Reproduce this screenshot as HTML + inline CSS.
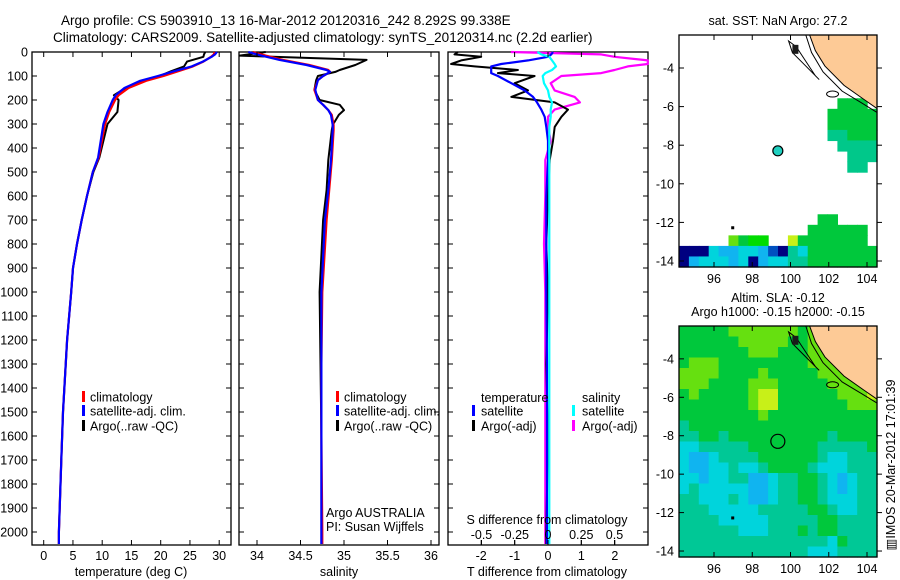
<!DOCTYPE html>
<html><head><meta charset="utf-8"><style>
html,body{margin:0;padding:0;background:#fff;}
svg{display:block;font-family:"Liberation Sans",sans-serif;}
text{font-size:12.5px;fill:#000;}
</style></head><body>
<svg id="fig" width="900" height="580" viewBox="0 0 900 580">
<text x="61" y="25" style="font-size:13.5px">Argo profile: CS 5903910_13 16-Mar-2012 20120316_242 8.292S 99.338E</text>
<text x="53" y="42" style="font-size:13.5px">Climatology: CARS2009. Satellite-adjusted climatology: synTS_20120314.nc (2.2d earlier)</text>
<g id="g"></g>
</svg>
<script>
// ---- profile data (depth in m) ----
const tDepth=[0,10,20,40,60,80,100,120,150,180,200,250,300,440,500,600,700,800,900,1000,1200,1500,1700,2000,2050];
const tClim=[29.2,29.1,28.6,27.3,25.5,23,20.5,17.5,14.5,12.8,12.2,11.2,10.5,9.4,8.4,7.4,6.5,5.7,5.0,4.7,4.0,3.3,3.0,2.6,2.6];
const tSat=[29.6,29.3,28.7,27.2,25.3,22.3,19.5,16.5,13.8,12.3,11.8,10.9,10.2,9.3,8.4,7.4,6.5,5.7,5.0,4.7,4.0,3.3,3.0,2.6,2.6];
const tArgo=[27.6,27.4,27.3,24.5,24.0,21.8,19.8,16.8,14.0,12.0,12.8,12.6,10.9,9.5,8.5,7.4,6.5,5.7,5.0,4.7,4.0,3.3,3.0,2.6,2.6];
const sDepth=[0,15,33,54,75,83,100,117,158,200,220,242,262,304,325,450,575,700,1000,1300,1600,2000,2050];
const sClim=[33.95,34.1,34.3,34.6,34.82,34.84,34.76,34.7,34.66,34.7,34.76,34.82,34.86,34.88,34.88,34.86,34.83,34.8,34.75,34.74,34.74,34.75,34.75];
const sSat=[33.9,34.05,34.26,34.57,34.8,34.84,34.76,34.7,34.67,34.7,34.76,34.82,34.85,34.87,34.87,34.85,34.82,34.78,34.74,34.74,34.74,34.74,34.74];
const sArgo=[34.1,33.8,35.26,35.13,34.95,34.9,34.7,34.68,34.66,34.72,34.95,35.0,34.94,34.87,34.86,34.82,34.8,34.76,34.72,34.73,34.74,34.74,34.74];
const dDepth=[0,10,20,35,50,60,75,88,100,130,160,187,210,240,270,312,370,450,600,800,1000,1300,1600,2000,2050];
const dTsat=[0.15,0.1,0,-0.6,-1.4,-1.7,-1.7,-1.7,-1.5,-1.1,-0.7,-0.45,-0.33,-0.2,-0.1,-0.05,0,0,-0.05,-0.05,-0.05,-0.03,-0.03,-0.03,-0.03];
const dTargo=[-2.7,-2.8,-2.0,-2.6,-2.9,-2.2,-0.9,-1.5,-0.4,-1.0,-0.6,-1.1,0.2,0.6,0.4,0.2,0.15,0.05,0,-0.05,0,-0.05,0,-0.05,-0.05];
const dSsat=[-0.08,-0.05,0.01,0.03,0.05,0.06,0.03,-0.02,-0.04,-0.03,0,0.01,0.03,0.02,0.02,0.01,0.01,0.01,0.01,0.01,0.01,0.01,0.01,0.01,0.01];
const dSargo=[-0.28,0.4,0.5,0.75,0.75,0.6,0.5,0.4,0.1,0.02,0.05,0.2,0.24,0.05,0.0,0.0,0.02,-0.02,-0.02,-0.03,-0.02,-0.02,-0.02,-0.02,-0.02];
const depthTicks=[0,100,200,300,400,500,600,700,800,900,1000,1100,1200,1300,1400,1500,1600,1700,1800,1900,2000];
const tTicks=[0,5,10,15,20,25,30];
const sTicks=[34,34.5,35,35.5,36];
const dTTicks=[-2,-1,0,1,2];
const dSTicks=[-0.5,-0.25,0,0.25,0.5];
const lonTicks=[96,98,100,102,104];
const latTicks=[-4,-6,-8,-10,-12,-14];
// SST grid (rows top->bottom, 20 cols), '.' = no data
const sstRows=["....................","....................","....................","....................","....................","....................",
"................GGG.","...............GGGGG","...............GGGGG","...............TTGGG","................TTTT",".................TTT",".................TT.",
"....................","....................","....................","....................","..............GG....",".............GGGGGG..",
".....gGLL..yGGGGGGG.","NNNcbbccbnNtcGGGGGGG","NbcccbcNbccttGGGGGGG"];
// SLA grid
const slaRows=["GGGGGgggggggGggyyyyy","GGGGGGgggggGGggyyyyy","GGGGGGGgggGGGgggyyyy","GgggGGGGGGGGGggggyyy","ggggGGGGgGGGGGgggyyy","gggGGGGgggGGGGGggggy",
"GgGGGGGgyyGGGGGGgggy","GGGGGGGgyyGGGGGGGggg","GGGGGGGGgGGGGGGGGGGG","tGGGGGGGGGGGGGGGGGGG","ttGGtGGGGGGGGGGtGGGG","cctttttGGGGGGGtttttG",
"cbbcttttGGGGGGtccttt","cbbcctcctGGGGtccctt","ccbccttbbcttGGtcbctt","ctcccccbbcttGGtcbctt","ttccctcbbcttGGtccctt","tttccccctttttGGtcctt",
"ttttccccctttttGGtttt","ttttttccctttGtGGtttt","tttttttttttttttcGttt","tttttttttttttccctttt"];
const argoLon=99.338, argoLat=-8.292;

const NS="http://www.w3.org/2000/svg";
const G=document.getElementById('g');
function el(tag,attrs,parent){const e=document.createElementNS(NS,tag);for(const k in attrs)e.setAttribute(k,attrs[k]);(parent||G).appendChild(e);return e;}
function txt(x,y,s,anchor,parent,size){const t=el('text',{x:x,y:y,'text-anchor':anchor||'start'},parent);if(size)t.style.fontSize=size+'px';t.textContent=s;return t;}
const yD=d=>52+d*0.24;
const PB=545;
function panel(x0,x1,name){const g=el('g',{});
 el('rect',{x:x0,y:52,width:x1-x0,height:PB-52,fill:'none',stroke:'#000','stroke-width':1.3},g);return g;}
const panels=[[32,231,'temperature-panel'],[239,439,'salinity-panel'],[448,648,'difference-panel']];
const pg=panels.map(p=>panel(p[0],p[1],p[2]));
depthTicks.forEach(d=>{const y=yD(d);
 panels.forEach(p=>{el('line',{x1:p[0],x2:p[0]+5,y1:y,y2:y,stroke:'#000'});el('line',{x1:p[1]-5,x2:p[1],y1:y,y2:y,stroke:'#000'});});
 const t=txt(28,y+4.5,String(d),'end',null,12.5);});
function xTicks(vals,fx,labY){vals.forEach(v=>{const x=fx(v);
 el('line',{x1:x,x2:x,y1:PB-5,y2:PB,stroke:'#000'});el('line',{x1:x,x2:x,y1:52,y2:57,stroke:'#000'});
 const t=txt(x,labY,String(v),'middle');});}
const xT=v=>43.7+v*5.85, xS=v=>257+(v-34)*87, xdT=v=>548+v*33.4, xdS=v=>548+v*133;
xTicks(tTicks,xT,560);xTicks(sTicks,xS,560);xTicks(dTTicks,xdT,560);
dSTicks.forEach(v=>{const x=xdS(v);el('line',{x1:x,x2:x,y1:PB-5,y2:PB,stroke:'#000'});const t=txt(x,539,String(v),'middle');});
txt(131,576,'temperature (deg C)','middle');
txt(339,576,'salinity','middle');
txt(547,576,'T difference from climatology','middle');
txt(547,524,'S difference from climatology','middle');
function line(depths,vals,fx,color,name,w,parent){const pts=depths.map((d,i)=>fx(vals[i]).toFixed(1)+','+yD(Math.min(d,2050)).toFixed(1)).join(' ');
 const p=el('polyline',{points:pts,fill:'none',stroke:color,'stroke-width':w||2.2,'stroke-linejoin':'round'},parent);
 return p;}
line(tDepth,tArgo,xT,'#000','temp-argo-line',2,pg[0]);
line(tDepth,tClim,xT,'#f00','temp-climatology-line',2.2,pg[0]);
line(tDepth,tSat,xT,'#00f','temp-satellite-line',2.2,pg[0]);
line(sDepth,sArgo,xS,'#000','sal-argo-line',2,pg[1]);
line(sDepth,sClim,xS,'#f00','sal-climatology-line',2.2,pg[1]);
line(sDepth,sSat,xS,'#00f','sal-satellite-line',2.2,pg[1]);
line(dDepth,dSargo,xdS,'#f0f','s-diff-argo-line',2.2,pg[2]);
line(dDepth,dTargo,xdT,'#000','t-diff-argo-line',2,pg[2]);
line(dDepth,dTsat,xdT,'#00f','t-diff-satellite-line',2.2,pg[2]);
line(dDepth,dSsat,xdS,'#0ff','s-diff-satellite-line',2.2,pg[2]);
function leg(bx,tx,y,color,s,name){el('rect',{x:bx-1,y:y-6,width:3,height:11,fill:color});const t=txt(tx,y+4.5,s);}
leg(83,90,397,'#f00','climatology','legend-climatology');leg(83,90,411,'#00f','satellite-adj. clim.','legend-satellite');leg(83,90,426,'#000','Argo(..raw -QC)','legend-argo');
leg(337,344,397,'#f00','climatology','legend-climatology-2');leg(337,344,411,'#00f','satellite-adj. clim.','legend-satellite-2');leg(337,344,426,'#000','Argo(..raw -QC)','legend-argo-2');
txt(481,402,'temperature');
txt(582,402,'salinity');
leg(473,481,411,'#00f','satellite','legend-t-satellite');leg(473,481,426,'#000','Argo(-adj)','legend-t-argo');
leg(573,582,411,'#0ff','satellite','legend-s-satellite');leg(573,582,426,'#f0f','Argo(-adj)','legend-s-argo');
txt(326,517,'Argo AUSTRALIA');
txt(326,531,'PI: Susan Wijffels');
// ---- maps ----
const colors={G:'#00c83c',g:'#66e010',y:'#c8f018',t:'#00c896',c:'#00d4dc',b:'#10b4f0',N:'#000080',T:'#00c88a',L:'#00dc00',n:'#0050c0'};
function map(top,bottom,rows,name,filled){
 const L=679,R=877,W=R-L,H=bottom-top;const lat4=top+(68-35)*(H/232), lat14=top+(261-35)*(H/232);
 const fx=lon=>714+(lon-96)*19.125, fy=lat=>lat4+(lat+4)*(lat14-lat4)/-10;
 const g=el('g',{});
 const nr=rows.length,cw=W/20,ch=H/nr;
 rows.forEach((r,ri)=>{for(let ci=0;ci<20;ci++){const k=r[ci]||r[r.length-1];if(k==='.'||!colors[k])continue;
  const c=el('rect',{x:(L+ci*cw).toFixed(2),y:(top+ri*ch).toFixed(2),width:(cw+0.6).toFixed(2),height:(ch+0.6).toFixed(2),fill:colors[k]},g);
  }});
 const land=[[fx(101),top],[R,top],[R,fy(-6.1)],[fx(103.8),fy(-5.6)],[fx(102.8),fy(-4.9)],[fx(101.8),fy(-3.9)],[fx(101.3),fy(-3.1)]];
 el('polygon',{points:land.map(p=>p.join(',')).join(' '),fill:'#fdca96',stroke:'#000','stroke-width':1},g);
 el('polyline',{points:[[fx(100.8),top],[fx(101.1),fy(-3.2)],[fx(101.7),fy(-4.2)],[fx(102.7),fy(-5.2)],[fx(103.7),fy(-5.8)],[R,fy(-6.3)]].map(p=>p.join(',')).join(' '),fill:'none',stroke:'#000','stroke-width':1},g);
 el('polygon',{points:[[fx(99.9),fy(-2.6)],[fx(100.3),fy(-2.9)],[fx(100.7),fy(-3.5)],[fx(101.3),fy(-4.4)],[fx(101.5),fy(-4.6)],[fx(100.6),fy(-3.7)],[fx(100.1),fy(-3.2)]].map(p=>p.join(',')).join(' '),fill:'none',stroke:'#000','stroke-width':1},g);
 el('ellipse',{cx:fx(102.2),cy:fy(-5.35),rx:6,ry:3,fill:'none',stroke:'#000'},g);
 el('rect',{x:fx(100.1),y:fy(-2.8),width:6,height:9,fill:'#1a1a1a'},g);
 el('rect',{x:fx(96.9),y:fy(-12.2),width:3,height:3,fill:'#000'},g);
 el('rect',{x:L,y:top,width:W,height:H,fill:'none',stroke:'#000','stroke-width':1.3},g);
 lonTicks.forEach(v=>{const x=fx(v);el('line',{x1:x,x2:x,y1:top,y2:top+5,stroke:'#000'},g);el('line',{x1:x,x2:x,y1:bottom-5,y2:bottom,stroke:'#000'},g);
  const t=txt(x,bottom+16,String(v),'middle',g);});
 latTicks.forEach(v=>{const y=fy(v);el('line',{x1:L,x2:L+5,y1:y,y2:y,stroke:'#000'},g);el('line',{x1:R,x2:R+5,y1:y,y2:y,stroke:'#000'},g);
  const t=txt(674,y+4.5,String(v),'end',g);});
 const m=el('circle',{cx:fx(argoLon),cy:fy(argoLat),r:filled?5:7,fill:filled?'#20d0c0':'none',stroke:'#000','stroke-width':1.2},g);
 
}
map(35,267,sstRows,'sst-map',true);
map(326,557,slaRows,'sla-map',false);
txt(778,25,'sat. SST: NaN Argo: 27.2','middle');
txt(778,302,'Altim. SLA: -0.12','middle');
txt(778,316,'Argo h1000: -0.15 h2000: -0.15','middle');
const v=txt(0,0,'\u25A5IMOS 20-Mar-2012 17:01:39','middle');v.setAttribute('transform','translate(895,465) rotate(-90)');

</script>
</body></html>
